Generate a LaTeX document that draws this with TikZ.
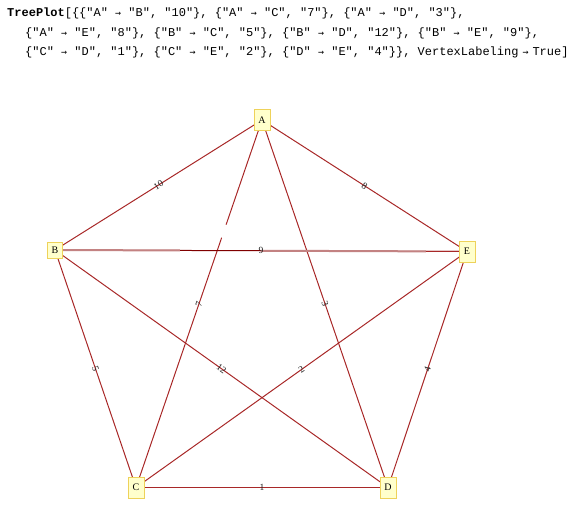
\documentclass[tikz,border=0pt]{standalone}
\usepackage{fontspec}
\setmainfont{Liberation Serif}
\newfontfamily\codefont{Liberation Mono}
\newfontfamily\arrowfont{DejaVu Sans Mono}
\usetikzlibrary{calc}
\pgfdeclarelayer{bg}
\pgfsetlayers{bg,main}
\definecolor{vfill}{RGB}{255,255,204}
\definecolor{vborder}{RGB}{238,210,90}
\definecolor{edgecol}{RGB}{168,40,40}
\definecolor{pinkline}{RGB}{195,130,130}
\definecolor{darkline}{RGB}{128,0,0}
\definecolor{labelcol}{RGB}{30,30,30}
\newcommand\myarr{{\arrowfont\fontsize{10}{11}\selectfont →}}
\begin{document}
\begin{tikzpicture}[x=1pt,y=-1pt,
  vertex/.style={draw=vborder, fill=vfill, line width=0.8pt, minimum width=16pt,
    minimum height=21pt, inner sep=0pt, font=\fontsize{10}{11}\selectfont},
  edge/.style={draw=edgecol, line width=1pt},
  wlabel/.style={sloped, inner sep=0pt, text=labelcol, font=\fontsize{9.5}{10}\selectfont},
  codeline/.style={anchor=west, inner sep=0pt, font=\codefont\fontsize{12}{14}\selectfont}]
\useasboundingbox (0,0) rectangle (572,516);

\node[codeline] (l1) at (7,13) {{\bfseries TreePlot}[\{\{"A" \myarr{} "B", "10"\}, \{"A" \myarr{} "C", "7"\}, \{"A" \myarr{} "D", "3"\},};
\node[codeline] (l2) at (25,33) {\{"A" \myarr{} "E", "8"\}, \{"B" \myarr{} "C", "5"\}, \{"B" \myarr{} "D", "12"\}, \{"B" \myarr{} "E", "9"\},};
\node[codeline] (l3) at (25,52) {\{"C" \myarr{} "D", "1"\}, \{"C" \myarr{} "E", "2"\}, \{"D" \myarr{} "E", "4"\}\}, VertexLabeling\makebox[14pt]{\myarr}True]};

\node[vertex] (A) at (262,120) {A};
\node[vertex, minimum height=16pt, minimum width=15pt] (B) at (55,250) {B};
\node[vertex] (C) at (136,487.5) {C};
\node[vertex] (D) at (388,487.5) {D};
\node[vertex] (E) at (467,251.5) {E};

\begin{pgfonlayer}{bg}
\draw[edge] (A.center) -- node[wlabel]{10} (B.center);
\draw[edge] (A.center) -- node[wlabel]{7} (C.center);
\draw[edge] (A.center) -- node[wlabel]{3} (D.center);
\draw[edge] (A.center) -- node[wlabel]{8} (E.center);
\draw[edge] (B.center) -- node[wlabel]{5} (C.center);
\draw[edge] (B.center) -- node[wlabel]{12} (D.center);
\draw[edge] (C.center) -- node[wlabel]{1} (D.center);
\draw[edge] (C.center) -- node[wlabel]{2} (E.center);
\draw[edge] (D.center) -- node[wlabel]{4} (E.center);
% gap in A--C
\coordinate (g1) at ($(A.center)!0.285!(C.center)$);
\coordinate (g2) at ($(A.center)!0.32!(C.center)$);
\draw[white, line width=2.5pt] (g1) -- (g2);
% B--E with its shading
\coordinate (be1) at ($(B.center)!0.303!(E.center)$);
\coordinate (be2) at ($(B.center)!0.5!(E.center)$);
\coordinate (be3) at ($(B.center)!0.9!(E.center)$);
\draw[draw=darkline, line width=1pt] (B.center) -- (E.center);
\draw[draw=pinkline, line width=2pt] (B.center) -- (be1);
\draw[draw=pinkline, line width=2pt] (be2) -- (be3);
\draw[edge] (be3) -- (E.center);
\path (B.center) -- node[wlabel]{9} (E.center);
\end{pgfonlayer}
\end{tikzpicture}
\end{document}
